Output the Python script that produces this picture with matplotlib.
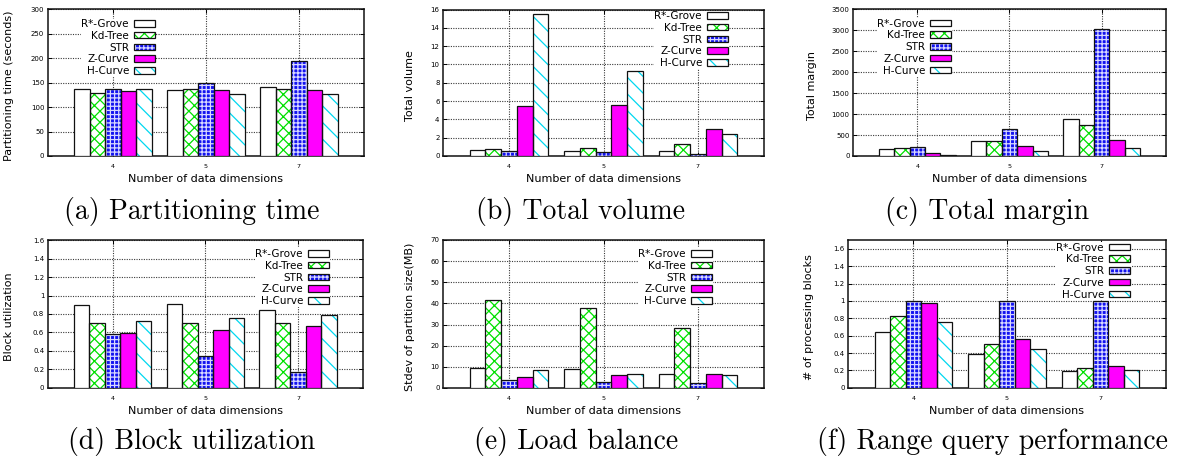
import matplotlib
matplotlib.use("Agg")
import matplotlib.pyplot as plt
import numpy as np
from matplotlib.patches import Patch
from matplotlib.legend_handler import HandlerTuple
from matplotlib.ticker import FuncFormatter, MultipleLocator

# ---- data -------------------------------------------------------------
dimensions = ["4", "5", "7"]
methods = ["R*-Grove", "Kd-Tree", "STR", "Z-Curve", "H-Curve"]

# one row per method, one column per dimension count
partitioning_time = [
    [138, 134, 142],
    [128, 136, 138],
    [137, 149, 194],
    [133, 134, 134],
    [138, 126, 126],
]
total_volume = [
    [0.69, 0.51, 0.51],
    [0.76, 0.84, 1.27],
    [0.55, 0.40, 0.25],
    [5.49, 5.53, 2.95],
    [15.5, 9.30, 2.36],
]
total_margin = [
    [159, 358, 883],
    [191, 358, 732],
    [215, 652, 3039],
    [64, 231, 374],
    [24, 119, 199],
]
block_utilization = [
    [0.894, 0.905, 0.843],
    [0.699, 0.700, 0.700],
    [0.579, 0.348, 0.167],
    [0.594, 0.623, 0.670],
    [0.728, 0.753, 0.789],
]
load_balance = [
    [9.66, 9.19, 6.80],
    [41.5, 37.7, 28.35],
    [3.64, 3.00, 2.53],
    [5.38, 6.18, 6.80],
    [8.55, 6.49, 6.18],
]
range_query = [
    [0.644, 0.389, 0.197],
    [0.825, 0.500, 0.231],
    [1.000, 1.000, 1.000],
    [0.975, 0.567, 0.247],
    [0.759, 0.443, 0.200],
]

# ---- styling ----------------------------------------------------------
W, H = 1189, 462
plt.rcParams["hatch.linewidth"] = 0.9
fig = plt.figure(figsize=(W / 100, H / 100), dpi=100)

bar_styles = [
    dict(face="white", hatch=None, hcolor="white"),
    dict(face="white", hatch="xxx", hcolor="#00e000"),
    dict(face="#1212f0", hatch="++++", hcolor="#d8d8ff"),
    dict(face="#ff00ff", hatch=None, hcolor="#ff00ff"),
    dict(face="white", hatch="\\\\", hcolor="#00d8f0"),
]
EDGE = "#111111"


def pct(v):
    return "%g" % v


def panel(box, values, ylabel, ymax, ystep, ylabel_x, legend_right, legend_top,
          caption, caption_xy):
    left, right, top, bottom = box
    ax = fig.add_axes([left / W, 1 - bottom / H, (right - left) / W, (bottom - top) / H])
    x = np.arange(len(dimensions))
    width = 1 / 6
    for i, (vals, st) in enumerate(zip(values, bar_styles)):
        pos = x + (i - 2) * width
        ax.bar(pos, vals, width, color=st["face"], hatch=st["hatch"],
               edgecolor=st["hcolor"], linewidth=0, zorder=3)
        ax.bar(pos, vals, width, fill=False, edgecolor=EDGE, linewidth=0.9, zorder=4)
    ax.set_xlim(-0.7, 2.7)
    ax.set_ylim(0, ymax)
    ax.set_xticks(x)
    ax.set_xticklabels(dimensions)
    ax.yaxis.set_major_locator(MultipleLocator(ystep))
    ax.yaxis.set_major_formatter(FuncFormatter(lambda v, p: pct(round(v, 6))))
    ax.tick_params(axis="y", labelsize=5, direction="in", length=3, width=0.7,
                   pad=2.5, right=True)
    ax.tick_params(axis="x", labelsize=4.6, direction="in", length=3, width=0.7,
                   pad=6, top=True)
    ax.set_axisbelow(True)
    ax.grid(True, linestyle=(0, (1, 1.2)), color="#3a3a3a", linewidth=0.8)
    for s in ax.spines.values():
        s.set_linewidth(1.1)
        s.set_color("#111111")

    ax.set_ylabel(ylabel, fontsize=8)
    ax.yaxis.set_label_coords(ylabel_x, 0.48)
    ax.set_xlabel("Number of data dimensions", fontsize=8)
    ax.xaxis.set_label_coords(0.5, -0.157)
    ax.xaxis.label.set_va("center")

    handles = [
        (Patch(facecolor=st["face"], hatch=st["hatch"], edgecolor=st["hcolor"], linewidth=0),
         Patch(fill=False, edgecolor=EDGE, linewidth=0.9))
        for st in bar_styles
    ]
    leg = ax.legend(handles, methods, loc="upper right",
                    bbox_to_anchor=(legend_right / W, 1 - legend_top / H),
                    bbox_transform=fig.transFigure,
                    handler_map={tuple: HandlerTuple(ndivide=1)},
                    markerfirst=False, fontsize=7.5, frameon=True, fancybox=False,
                    framealpha=1, facecolor="white", edgecolor="none",
                    borderpad=0.05, borderaxespad=0, handlelength=2.1,
                    handleheight=0.6, handletextpad=0.45, labelspacing=0.17)
    # key sits over the grid but underneath the bars
    leg.set_zorder(2.5)

    fig.text(caption_xy[0] / W, 1 - caption_xy[1] / H, caption, family="cmr10",
             fontsize=20, ha="center", va="center")
    return ax


panel((47.7, 364, 9.3, 156), partitioning_time, "Partitioning time (seconds)", 300, 50,
      -0.1065, 156, 18.5, "(a) Partitioning time", (191.5, 212))
panel((443, 764, 9.5, 156), total_volume, "Total volume", 16, 2,
      -0.087, 729, 10.5, "(b) Total volume", (580, 212))
panel((853, 1166, 9.3, 156), total_margin, "Total margin", 3500, 500,
      -0.116, 952, 18, "(c) Total margin", (987, 212))
panel((47.7, 363, 240.3, 387.7), block_utilization, "Block utilization", 1.6, 0.2,
      -0.107, 330, 248.5, "(d) Block utilization", (192, 442))
panel((443, 764, 240, 388), load_balance, "Stdev of partition size(MB)", 70, 10,
      -0.087, 713, 248.5, "(e) Load balance", (576, 442))
panel((848, 1166, 240.3, 387.7), range_query, "# of processing blocks", 1.7, 0.2,
      -0.107, 1131, 242, "(f) Range query performance", (992, 442))

fig.savefig("out.png", dpi=100)
